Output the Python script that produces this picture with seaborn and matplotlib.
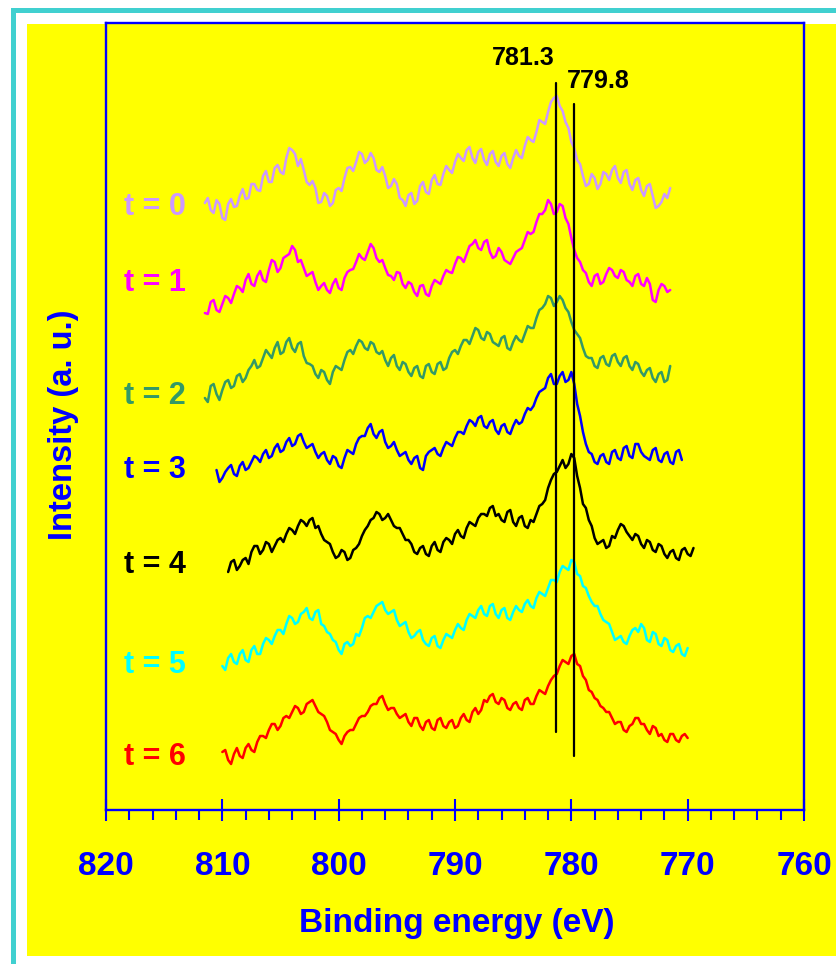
import numpy as np
import pandas as pd
import matplotlib
matplotlib.use("Agg")
import matplotlib.pyplot as plt
from matplotlib.patches import Rectangle
from matplotlib.ticker import MultipleLocator
import seaborn as sns

# Ni 2p XPS spectra recorded at successive times, stacked with vertical offsets
labels = ["t = 0", "t = 1", "t = 2", "t = 3", "t = 4", "t = 5", "t = 6"]
colors = ["#CC99FF", "#FF00FF", "#339966", "#0000FF", "#000000", "#00FFFF", "#FF0000"]
step_ev = 0.25
start_ev = [811.5, 811.5, 811.5, 810.5, 809.5, 810.0, 810.0]

int_t0 = [607, 612, 600, 597, 610, 606, 592, 590, 606, 611,
          603, 604, 614, 621, 611, 612, 626, 626, 620, 619,
          634, 639, 628, 628, 642, 645, 638, 636, 652, 662,
          660, 656, 644, 651, 640, 628, 625, 629, 622, 607,
          608, 617, 614, 604, 607, 620, 622, 619, 632, 642,
          643, 639, 648, 658, 656, 647, 650, 657, 652, 640,
          638, 643, 634, 622, 624, 631, 626, 612, 610, 604,
          615, 617, 606, 609, 624, 628, 618, 616, 630, 635,
          626, 625, 636, 644, 640, 637, 648, 656, 652, 649,
          660, 663, 652, 647, 658, 661, 650, 645, 656, 659,
          648, 644, 654, 657, 646, 642, 652, 660, 654, 652,
          664, 673, 670, 668, 678, 690, 688, 686, 698, 708,
          712, 714, 704, 699, 688, 682, 668, 662, 650, 646,
          634, 624, 626, 636, 632, 621, 626, 638, 636, 630,
          640, 644, 632, 627, 638, 640, 626, 620, 630, 632,
          620, 614, 624, 626, 614, 602, 604, 608, 616, 612,
          622]
int_t1 = [497, 496, 508, 510, 500, 498, 506, 514, 512, 507,
          516, 524, 522, 518, 530, 536, 526, 524, 534, 539,
          530, 528, 540, 550, 548, 538, 542, 552, 554, 556,
          564, 560, 548, 550, 542, 534, 536, 538, 528, 520,
          524, 527, 520, 517, 526, 531, 522, 520, 532, 538,
          540, 541, 548, 556, 552, 550, 558, 566, 562, 552,
          548, 550, 542, 535, 534, 530, 538, 537, 526, 522,
          528, 526, 518, 514, 524, 525, 516, 514, 524, 530,
          528, 526, 534, 540, 538, 537, 546, 553, 552, 548,
          556, 564, 566, 570, 562, 560, 568, 570, 558, 552,
          554, 562, 558, 550, 548, 546, 552, 558, 560, 562,
          570, 578, 576, 578, 588, 596, 596, 600, 610, 606,
          596, 598, 606, 604, 592, 586, 572, 560, 552, 548,
          540, 537, 528, 524, 534, 536, 526, 528, 536, 542,
          540, 534, 532, 540, 538, 530, 528, 524, 534, 536,
          526, 524, 532, 526, 510, 508, 520, 526, 524, 518,
          520]
int_t2 = [412, 408, 424, 426, 416, 410, 420, 428, 430, 422,
          424, 434, 436, 428, 432, 440, 444, 450, 442, 444,
          452, 460, 456, 452, 462, 468, 456, 458, 468, 472,
          462, 458, 466, 468, 454, 447, 446, 444, 436, 432,
          440, 438, 430, 426, 438, 444, 442, 440, 450, 458,
          460, 456, 464, 470, 468, 462, 460, 468, 466, 458,
          456, 459, 450, 444, 452, 455, 444, 440, 448, 446,
          438, 434, 442, 444, 434, 432, 444, 446, 438, 436,
          446, 448, 440, 442, 452, 458, 460, 456, 464, 470,
          470, 466, 474, 482, 480, 472, 470, 478, 476, 468,
          466, 464, 472, 474, 462, 460, 468, 474, 470, 468,
          476, 484, 482, 482, 492, 500, 502, 506, 514, 512,
          504, 508, 514, 510, 502, 498, 488, 480, 476, 472,
          462, 454, 452, 452, 444, 442, 452, 454, 446, 444,
          454, 456, 448, 444, 452, 454, 444, 440, 448, 446,
          438, 434, 440, 442, 432, 428, 436, 438, 428, 430,
          444]
int_t3 = [340, 328, 332, 338, 342, 345, 336, 334, 344, 348,
          340, 342, 348, 354, 352, 348, 356, 360, 352, 354,
          362, 366, 358, 360, 368, 372, 364, 366, 374, 376,
          368, 362, 364, 366, 358, 352, 356, 358, 350, 346,
          354, 352, 344, 342, 352, 360, 358, 356, 366, 372,
          374, 374, 382, 386, 376, 372, 378, 380, 368, 362,
          364, 368, 360, 354, 356, 358, 350, 346, 352, 354,
          342, 340, 354, 358, 360, 362, 356, 354, 362, 368,
          366, 364, 372, 378, 378, 376, 384, 390, 388, 384,
          392, 394, 384, 382, 388, 390, 380, 376, 384, 386,
          378, 376, 384, 390, 386, 388, 396, 402, 400, 404,
          412, 418, 420, 422, 432, 436, 426, 426, 434, 438,
          428, 430, 438, 426, 406, 394, 378, 366, 358, 356,
          348, 346, 354, 356, 348, 346, 358, 360, 352, 350,
          362, 364, 354, 352, 366, 366, 358, 354, 352, 350,
          360, 362, 350, 348, 356, 358, 348, 346, 358, 360,
          350]
int_t4 = [238, 248, 250, 240, 244, 250, 252, 246, 258, 264,
          264, 256, 260, 268, 266, 258, 264, 270, 272, 268,
          276, 282, 280, 276, 284, 290, 288, 284, 290, 292,
          282, 284, 276, 270, 268, 266, 258, 252, 254, 260,
          258, 250, 252, 260, 262, 266, 274, 280, 284, 290,
          292, 298, 296, 290, 292, 296, 290, 284, 282, 282,
          276, 270, 270, 266, 258, 256, 262, 264, 256, 254,
          264, 268, 260, 258, 268, 272, 270, 266, 276, 280,
          274, 272, 282, 288, 286, 284, 292, 296, 296, 294,
          302, 304, 294, 296, 290, 288, 298, 300, 288, 284,
          292, 294, 284, 282, 290, 288, 296, 304, 306, 310,
          322, 330, 336, 338, 344, 350, 342, 346, 356, 352,
          334, 322, 306, 302, 290, 284, 272, 266, 268, 270,
          262, 264, 274, 272, 280, 286, 284, 278, 274, 270,
          276, 274, 266, 262, 270, 268, 260, 258, 266, 264,
          256, 252, 258, 260, 252, 250, 260, 262, 256, 254,
          262]
int_t5 = [144, 140, 152, 156, 148, 146, 156, 160, 150, 148,
          160, 164, 156, 156, 166, 172, 170, 166, 174, 180,
          180, 176, 186, 194, 192, 186, 188, 196, 198, 202,
          192, 190, 198, 200, 186, 184, 178, 176, 170, 168,
          160, 156, 166, 168, 164, 166, 176, 174, 182, 192,
          194, 192, 198, 204, 206, 208, 200, 196, 198, 200,
          190, 184, 186, 188, 178, 172, 174, 178, 180, 170,
          166, 164, 172, 174, 164, 162, 170, 176, 174, 172,
          180, 186, 182, 180, 190, 196, 194, 192, 200, 204,
          196, 194, 204, 206, 196, 192, 200, 202, 192, 190,
          198, 204, 200, 198, 206, 210, 204, 202, 212, 218,
          216, 214, 222, 230, 230, 228, 238, 244, 242, 240,
          250, 248, 236, 234, 224, 222, 214, 208, 204, 204,
          196, 190, 188, 186, 178, 170, 172, 174, 168, 166,
          174, 180, 182, 178, 186, 182, 170, 168, 178, 176,
          166, 164, 172, 170, 160, 158, 164, 166, 156, 154,
          162]
int_t6 = [58, 60, 50, 46, 56, 62, 54, 52, 62, 66,
          60, 58, 68, 74, 74, 72, 80, 86, 86, 80,
          84, 92, 94, 92, 98, 104, 102, 96, 98, 106,
          108, 110, 104, 98, 96, 94, 88, 80, 78, 76,
          70, 66, 74, 78, 80, 80, 86, 92, 94, 94,
          98, 104, 106, 106, 112, 114, 106, 100, 102, 102,
          96, 92, 94, 96, 88, 84, 92, 92, 84, 80,
          88, 90, 82, 80, 90, 92, 84, 82, 88, 90,
          82, 84, 92, 96, 90, 88, 98, 102, 96, 100,
          110, 108, 114, 116, 108, 106, 112, 110, 102, 100,
          106, 108, 102, 100, 110, 112, 106, 106, 114, 120,
          118, 116, 124, 130, 134, 136, 144, 150, 148, 146,
          154, 156, 146, 144, 134, 130, 120, 118, 112, 110,
          104, 102, 98, 98, 92, 86, 88, 88, 80, 78,
          84, 86, 92, 92, 86, 86, 80, 76, 84, 82,
          74, 76, 70, 68, 76, 76, 70, 68, 74, 76,
          72]
intensities = [int_t0, int_t1, int_t2, int_t3, int_t4, int_t5, int_t6]

# label positions (intensity units) for each trace name
label_y = [603, 527, 414, 340, 245, 145, 53]

# reference peak positions and the extent of their marker lines
peak_ev = [781.3, 779.8]
peak_line_y = [(78, 727), (54, 706)]
peak_text_pos = [(784.1, 752), (777.7, 729)]

frames = []
for lab, e0, vals in zip(labels, start_ev, intensities):
    energy = e0 - step_ev * np.arange(len(vals))
    frames.append(pd.DataFrame({"energy": energy, "intensity": vals, "t": lab}))
df = pd.concat(frames, ignore_index=True)

sns.set_style("white")
plt.rcParams["font.family"] = ["Liberation Sans", "DejaVu Sans"]
plt.rcParams["font.weight"] = "bold"

W, H = 836, 964
fig = plt.figure(figsize=(W / 100, H / 100), dpi=100, facecolor="white")

# page decoration: turquoise frame lines and the yellow panel
deco = dict(transform=fig.transFigure, edgecolor="none", zorder=-10)
fig.patches.append(Rectangle((11 / W, 0), 5 / W, (H - 8) / H, facecolor="#40D0D0", **deco))
fig.patches.append(Rectangle((11 / W, (H - 13) / H), 1, 5 / H, facecolor="#40D0D0", **deco))
fig.patches.append(Rectangle((27 / W, 8 / H), 1, (956 - 24) / H, facecolor="#FFFF00", **deco))

ax = fig.add_axes([106 / W, 1 - 810 / H, 698 / W, 787 / H])
ax.set_zorder(1)
ax.set_facecolor("#FFFF00")

sns.lineplot(data=df, x="energy", y="intensity", hue="t", palette=colors,
             estimator=None, legend=False, linewidth=1.8, ax=ax)

for lab, col, y in zip(labels, colors, label_y):
    ax.text(818.45, y, lab, color=col, fontsize=22, fontweight="bold",
            ha="left", va="center")

for ev, (y0, y1), (tx, ty) in zip(peak_ev, peak_line_y, peak_text_pos):
    ax.plot([ev, ev], [y0, y1], color="black", linewidth=1.6)
    ax.text(tx, ty, f"{ev:.1f}", color="black", fontsize=18, fontweight="bold",
            ha="center", va="center")

ax.set_xlim(820, 760)
ax.set_ylim(0, 787)
ax.xaxis.set_major_locator(MultipleLocator(10))
ax.xaxis.set_minor_locator(MultipleLocator(2))
ax.set_yticks([])
ax.tick_params(axis="x", which="major", direction="inout", length=16.5, width=1.5,
               color="#0000FF", labelcolor="#0000FF", labelsize=24, pad=21, bottom=True)
ax.tick_params(axis="x", which="minor", direction="out", length=7, width=1.5,
               color="#0000FF", bottom=True)
for lbl in ax.get_xticklabels():
    lbl.set_fontweight("bold")
for sp in ax.spines.values():
    sp.set_color("#0000FF")
    sp.set_linewidth(1.7)
    sp.set_visible(True)

ax.set_xlabel("Binding energy (eV)", fontsize=24, fontweight="bold", color="#0000FF", va="center")
ax.xaxis.set_label_coords(0.503, -0.1436)
ax.set_ylabel("Intensity (a. u.)", fontsize=23.5, fontweight="bold", color="#0000FF", va="center")
ax.yaxis.set_label_coords(-0.0616, 0.489)

fig.savefig("out.png", dpi=100, facecolor="white")
